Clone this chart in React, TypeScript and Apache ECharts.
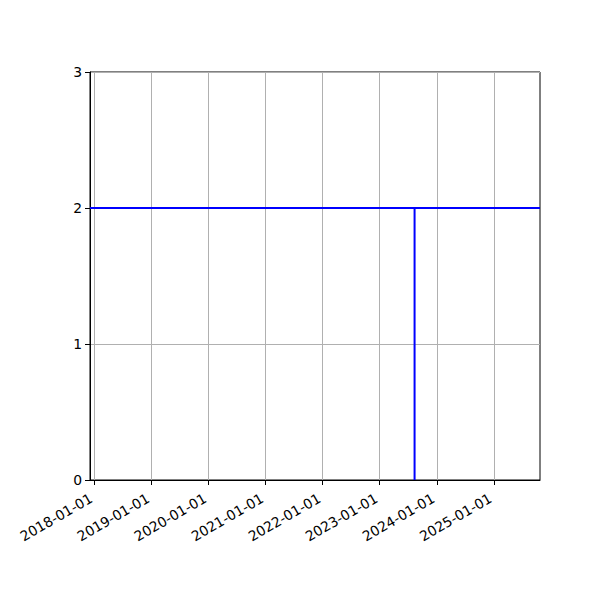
import React, { useEffect, useRef } from "react";
import * as echarts from "echarts";

const xRange = ["2017-12-03", "2025-10-23"];
const yearTicks = ["2018-01-01", "2019-01-01", "2020-01-01", "2021-01-01", "2022-01-01", "2023-01-01", "2024-01-01", "2025-01-01"];
const horizontalLine: [string, number][] = [["2017-12-03", 2], ["2025-10-23", 2]];
const verticalLine: [string, number][] = [["2023-08-12", 0], ["2023-08-12", 2]];
const yTicks = [0, 1, 2, 3];

const ts = (s: string) => new Date(s + "T00:00:00Z").getTime();
const pad = (n: number) => (n < 10 ? "0" + n : "" + n);
const fmt = (v: number) => {
  const d = new Date(v);
  return `${d.getUTCFullYear()}-${pad(d.getUTCMonth() + 1)}-${pad(d.getUTCDate())}`;
};

export default function App() {
  const ref = useRef<HTMLDivElement>(null);
  useEffect(() => {
    const chart = echarts.init(ref.current!, null, { renderer: "svg" });
    const font = "DejaVu Sans";
    const tickVals = yearTicks.map(ts);
    chart.setOption({
      animation: false,
      backgroundColor: "#ffffff",
      grid: { left: 90, right: 60, top: 72, bottom: 120, show: true, borderColor: "#000", borderWidth: 1, backgroundColor: "transparent" },
      xAxis: {
        type: "value",
        min: ts(xRange[0]),
        max: ts(xRange[1]),
        axisLine: { show: true, onZero: false, lineStyle: { color: "#000", width: 1 } },
        axisTick: { show: true, customValues: tickVals, length: 5, lineStyle: { color: "#000", width: 1 } },
        axisLabel: {
          customValues: tickVals,
          rotate: 30,
          formatter: (v: number) => fmt(v),
          fontFamily: font,
          fontSize: 13.9,
          color: "#000",
          margin: 15,
          padding: [0, 4, 0, 0],
          showMinLabel: true,
          showMaxLabel: true,
        },
        splitLine: { show: true, lineStyle: { color: "#b0b0b0", width: 1 } },
      },
      yAxis: {
        type: "value",
        min: yTicks[0],
        max: yTicks[yTicks.length - 1],
        interval: 1,
        axisLine: { show: true, lineStyle: { color: "#000", width: 1 } },
        axisTick: { show: true, length: 5, lineStyle: { color: "#000", width: 1 } },
        axisLabel: { fontFamily: font, fontSize: 13.9, color: "#000", margin: 8 },
        splitLine: { show: true, lineStyle: { color: "#b0b0b0", width: 1 } },
      },
      series: [
        {
          type: "line",
          data: horizontalLine.map(([d, v]) => [ts(d), v]),
          symbol: "none",
          lineStyle: { color: "#0000ff", width: 2 },
          z: 5,
        },
        {
          type: "line",
          data: verticalLine.map(([d, v]) => [ts(d), v]),
          symbol: "none",
          lineStyle: { color: "#0000ff", width: 2 },
          z: 5,
        },
      ],
    });
    return () => chart.dispose();
  }, []);
  return <div ref={ref} style={{ position: "absolute", left: 0, top: 0, width: 600, height: 600 }} />;
}
